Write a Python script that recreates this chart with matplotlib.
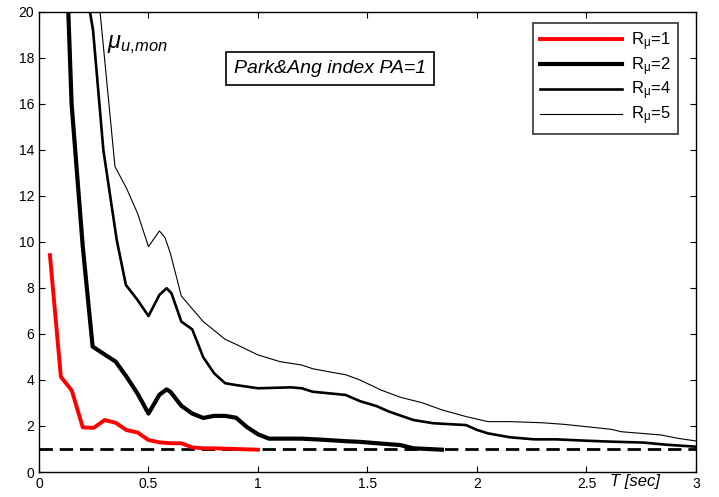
import matplotlib
matplotlib.use("Agg")
import matplotlib.pyplot as plt

plt.rcParams['font.family'] = ['Liberation Sans', 'DejaVu Sans']
plt.rcParams['mathtext.fontset'] = 'custom'
plt.rcParams['mathtext.rm'] = 'Liberation Sans'
plt.rcParams['mathtext.it'] = 'Liberation Sans:italic'
plt.rcParams['mathtext.bf'] = 'Liberation Sans:bold'

# Data
T1 = [0.05, 0.10, 0.15, 0.20, 0.25, 0.30, 0.35, 0.40, 0.45, 0.50, 0.55, 0.60, 0.65, 0.70, 0.75, 0.80, 0.90, 1.00]
mu1 = [9.43, 4.14, 3.54, 1.94, 1.92, 2.26, 2.14, 1.82, 1.72, 1.39, 1.29, 1.25, 1.25, 1.07, 1.03, 1.03, 1.00, 0.97]

T2 = [0.134, 0.149, 0.20, 0.245, 0.35, 0.40, 0.45, 0.50, 0.55, 0.583, 0.60, 0.65, 0.70, 0.75, 0.80, 0.85, 0.90, 0.95, 1.00, 1.05, 1.20, 1.30, 1.40, 1.466, 1.65, 1.71, 1.84]
mu2 = [20.0, 16.0, 9.8, 5.45, 4.8, 4.14, 3.41, 2.54, 3.36, 3.59, 3.49, 2.88, 2.54, 2.35, 2.44, 2.44, 2.36, 1.95, 1.64, 1.45, 1.45, 1.40, 1.34, 1.31, 1.17, 1.03, 0.97]

T4 = [0.233, 0.247, 0.294, 0.355, 0.397, 0.45, 0.50, 0.55, 0.583, 0.605, 0.65, 0.70, 0.75, 0.80, 0.85, 0.90, 1.00, 1.15, 1.20, 1.25, 1.40, 1.466, 1.54, 1.60, 1.71, 1.80, 1.95, 2.00, 2.05, 2.15, 2.26, 2.36, 2.50, 2.61, 2.76, 2.86, 3.00]
mu4 = [20.0, 19.2, 14.0, 10.09, 8.13, 7.48, 6.78, 7.70, 7.99, 7.77, 6.54, 6.2, 4.99, 4.29, 3.86, 3.78, 3.64, 3.68, 3.64, 3.49, 3.35, 3.08, 2.87, 2.62, 2.26, 2.12, 2.04, 1.83, 1.68, 1.51, 1.42, 1.42, 1.36, 1.32, 1.28, 1.19, 1.10]

T5 = [0.279, 0.347, 0.40, 0.45, 0.50, 0.55, 0.575, 0.60, 0.65, 0.75, 0.85, 0.90, 1.00, 1.10, 1.20, 1.25, 1.34, 1.40, 1.466, 1.56, 1.65, 1.75, 1.84, 1.95, 2.05, 2.15, 2.30, 2.40, 2.50, 2.61, 2.66, 2.84, 2.92, 3.00]
mu5 = [20.0, 13.28, 12.33, 11.25, 9.8, 10.48, 10.2, 9.51, 7.65, 6.54, 5.77, 5.55, 5.09, 4.80, 4.65, 4.49, 4.33, 4.23, 4.0, 3.57, 3.25, 3.01, 2.70, 2.41, 2.19, 2.19, 2.14, 2.07, 1.97, 1.86, 1.75, 1.61, 1.46, 1.35]

labels = [r'R$_{\mathregular{\mu}}$=1', r'R$_{\mathregular{\mu}}$=2', r'R$_{\mathregular{\mu}}$=4', r'R$_{\mathregular{\mu}}$=5']
ref_x = [0, 3]
ref_y = [1, 1]
xticks = [0, 0.5, 1, 1.5, 2, 2.5, 3]
xticklabels = ['0', '0.5', '1', '1.5', '2', '2.5', '3']
yticks = list(range(0, 21, 2))

fig = plt.figure(figsize=(7.19, 4.97), dpi=100)
ax = fig.add_axes([0.0542, 0.0503, 0.9138, 0.9256])

ax.plot(ref_x, ref_y, color='black', lw=2.0, dashes=(4.8, 2.5))
ax.plot(T1, mu1, color='red', lw=2.8, label=labels[0])
ax.plot(T2, mu2, color='black', lw=3.0, label=labels[1])
ax.plot(T4, mu4, color='black', lw=1.9, label=labels[2])
ax.plot(T5, mu5, color='black', lw=0.8, label=labels[3])

ax.set_xlim(0, 3)
ax.set_ylim(0, 20)
ax.set_xticks(xticks)
ax.set_xticklabels(xticklabels)
ax.set_yticks(yticks)
ax.tick_params(direction='in', top=True, right=True, labelsize=10, length=4, width=0.8)
for s in ax.spines.values():
    s.set_linewidth(1.0)

leg = ax.legend(loc='upper right', bbox_to_anchor=(0.9726, 0.976), borderaxespad=0,
                fontsize=12, frameon=True, fancybox=False, edgecolor='black',
                handlelength=4.9, borderpad=0.42, labelspacing=0.14, handletextpad=0.55)
leg.get_frame().set_linewidth(1.2)

ax.text(0.31, 18.45, r'$\mu_{u{,}mon}$', fontsize=17, va='baseline')
ax.text(0.89, 17.35, 'Park&Ang index PA=1', fontsize=14, style='italic', va='baseline',
        bbox=dict(boxstyle='square,pad=0.42', fc='white', ec='black', lw=1.2))
ax.text(2.607, -0.08, 'T [sec]', fontsize=12, style='italic', va='top')

fig.savefig('out.png', dpi=100)
